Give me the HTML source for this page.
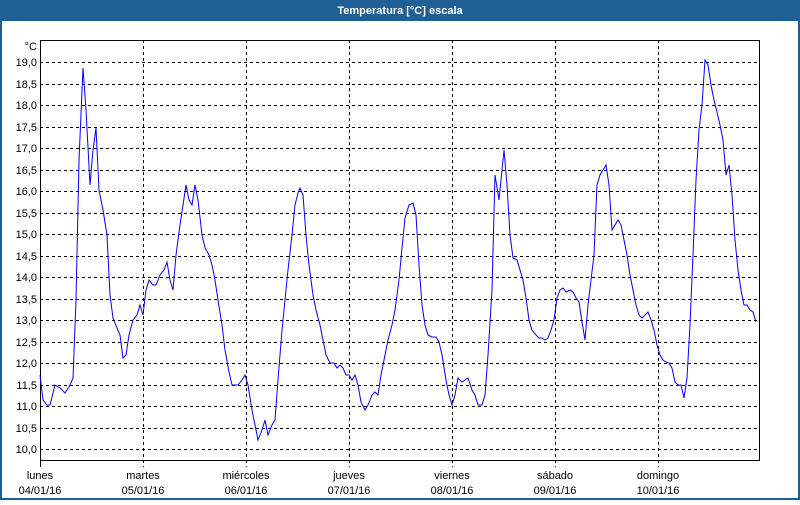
<!DOCTYPE html>
<html><head><meta charset="utf-8"><style>
html,body{margin:0;padding:0;background:#fff;}
body{width:800px;height:500px;overflow:hidden;font-family:"Liberation Sans",sans-serif;}
</style></head><body>
<svg width="800" height="500" xmlns="http://www.w3.org/2000/svg" font-family="Liberation Sans, sans-serif" font-size="11">
<rect x="0" y="0" width="800" height="500" fill="#1f5f94"/>
<rect x="2" y="21" width="796" height="477" fill="#fff"/>
<text x="400" y="14" text-anchor="middle" fill="#fff" font-weight="bold" font-size="11">Temperatura [°C] escala</text>
<g stroke="#000" stroke-dasharray="3,3" stroke-width="1">
<line x1="40" x2="760" y1="62.5" y2="62.5"/><line x1="40" x2="760" y1="84.5" y2="84.5"/><line x1="40" x2="760" y1="105.5" y2="105.5"/><line x1="40" x2="760" y1="127.5" y2="127.5"/><line x1="40" x2="760" y1="148.5" y2="148.5"/><line x1="40" x2="760" y1="170.5" y2="170.5"/><line x1="40" x2="760" y1="191.5" y2="191.5"/><line x1="40" x2="760" y1="213.5" y2="213.5"/><line x1="40" x2="760" y1="234.5" y2="234.5"/><line x1="40" x2="760" y1="256.5" y2="256.5"/><line x1="40" x2="760" y1="277.5" y2="277.5"/><line x1="40" x2="760" y1="299.5" y2="299.5"/><line x1="40" x2="760" y1="320.5" y2="320.5"/><line x1="40" x2="760" y1="342.5" y2="342.5"/><line x1="40" x2="760" y1="363.5" y2="363.5"/><line x1="40" x2="760" y1="385.5" y2="385.5"/><line x1="40" x2="760" y1="406.5" y2="406.5"/><line x1="40" x2="760" y1="428.5" y2="428.5"/><line x1="40" x2="760" y1="449.5" y2="449.5"/>
<line x1="143.5" x2="143.5" y1="40" y2="467"/><line x1="246.5" x2="246.5" y1="40" y2="467"/><line x1="349.5" x2="349.5" y1="40" y2="467"/><line x1="452.5" x2="452.5" y1="40" y2="467"/><line x1="555.5" x2="555.5" y1="40" y2="467"/><line x1="658.5" x2="658.5" y1="40" y2="467"/>
</g>
<rect x="40.5" y="40.5" width="719" height="420" fill="none" stroke="#000"/>
<line x1="40.5" x2="40.5" y1="460" y2="467" stroke="#000"/>
<g text-anchor="end" fill="#000">
<text x="37" y="50">°C</text>
<text x="37" y="66">19,0</text><text x="37" y="88">18,5</text><text x="37" y="109">18,0</text><text x="37" y="131">17,5</text><text x="37" y="152">17,0</text><text x="37" y="174">16,5</text><text x="37" y="195">16,0</text><text x="37" y="217">15,5</text><text x="37" y="238">15,0</text><text x="37" y="260">14,5</text><text x="37" y="281">14,0</text><text x="37" y="303">13,5</text><text x="37" y="324">13,0</text><text x="37" y="346">12,5</text><text x="37" y="367">12,0</text><text x="37" y="389">11,5</text><text x="37" y="410">11,0</text><text x="37" y="432">10,5</text><text x="37" y="453">10,0</text>
</g>
<g text-anchor="middle" fill="#000">
<text x="40" y="479">lunes</text><text x="40" y="494">04/01/16</text>
<text x="143" y="479">martes</text><text x="143" y="494">05/01/16</text>
<text x="246" y="479">miércoles</text><text x="246" y="494">06/01/16</text>
<text x="349" y="479">jueves</text><text x="349" y="494">07/01/16</text>
<text x="452" y="479">viernes</text><text x="452" y="494">08/01/16</text>
<text x="555" y="479">sábado</text><text x="555" y="494">09/01/16</text>
<text x="658" y="479">domingo</text><text x="658" y="494">10/01/16</text>
</g>
<polyline fill="none" stroke="#0000ff" stroke-width="1" points="40,375 43,400 47,405 50,405 55,385 60,388 65,393 70,385 73,378 76,300 79,160 83,68 86,110 90,185 93,150 96,128 99,190 103,210 107,235 110,295 113,318 117,328 120,335 123,358 126,355 129,335 133,320 137,315 140,305 143,315 146,290 149,280 153,285 156,285 160,275 164,270 167,262 170,280 173,290 176,255 180,225 183,205 186,185 189,200 192,205 195,185 198,200 202,235 205,248 209,255 212,265 215,280 218,300 222,325 225,350 229,372 232,385 235,385 238,385 242,380 245,375 248,385 252,410 255,425 258,440 262,430 265,420 268,435 272,425 275,420 278,380 282,330 285,300 288,270 292,235 295,205 298,193 300,188 303,195 306,235 309,265 313,295 316,310 320,325 323,340 326,355 330,363 334,363 337,368 340,365 343,368 346,375 349,375 352,380 355,375 358,385 361,402 365,410 368,405 372,395 375,392 378,395 381,375 385,355 388,340 392,325 395,310 399,280 402,248 405,218 409,205 413,203 416,215 419,265 422,305 425,325 428,335 432,337 436,337 439,342 442,355 446,380 449,395 452,405 455,395 458,378 462,382 465,380 468,378 472,390 475,395 478,405 482,405 485,395 488,355 492,290 495,175 499,200 502,170 504,150 507,185 510,235 513,258 517,260 520,270 523,280 526,298 529,320 532,330 536,335 539,338 542,338 545,340 548,338 551,330 554,320 557,298 560,290 563,288 566,292 570,290 573,292 576,298 579,302 582,322 585,340 588,305 591,280 594,255 597,185 600,175 603,170 606,165 609,185 612,230 615,225 618,220 621,225 624,240 627,255 630,275 633,290 636,305 639,315 642,318 645,315 648,312 651,320 654,330 657,345 660,355 663,360 666,362 669,363 672,368 675,382 678,385 681,385 684,398 687,378 690,325 693,255 696,180 699,130 702,105 705,60 708,65 711,85 714,100 717,112 720,125 723,140 726,175 729,165 732,195 735,240 738,270 741,290 744,305 747,305 750,310 753,312 756,322"/>
</svg>
</body></html>
